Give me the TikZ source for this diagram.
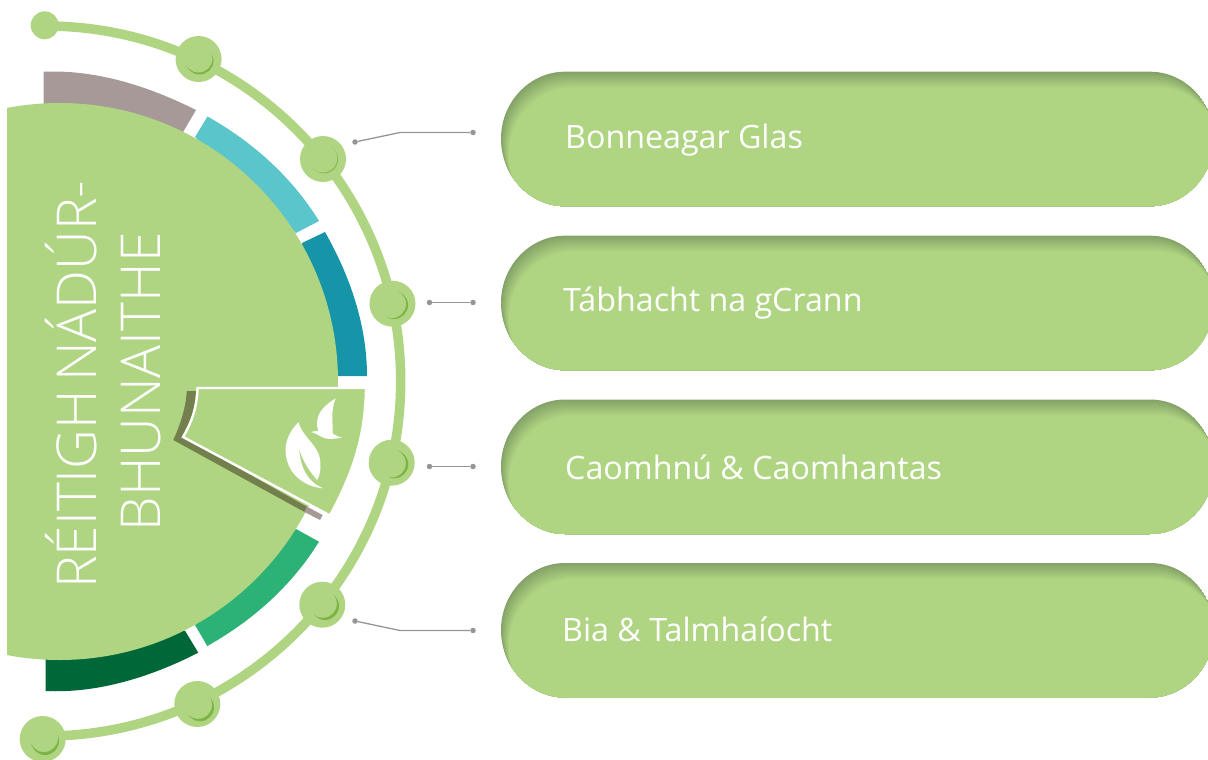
\documentclass[tikz,border=0pt]{standalone}
\usepackage{fontspec}
\setmainfont{Open Sans Light}
\newfontfamily\pillfont{Open Sans}
\definecolor{pillc}{HTML}{AFD582}
\definecolor{shadc}{HTML}{84A267}
\definecolor{crescc}{HTML}{7CB544}
\definecolor{olivec}{HTML}{747F4E}
\definecolor{grayc}{HTML}{A69997}
\definecolor{tealc}{HTML}{5AC5CA}
\definecolor{bluec}{HTML}{1795A8}
\definecolor{greenc}{HTML}{2CB277}
\definecolor{darkc}{HTML}{006838}
\definecolor{leadc}{HTML}{939598}
\tikzset{
  pilltext/.style={anchor=base west,text=white,font=\pillfont\fontsize{32.2}{32.2}\selectfont,inner sep=0pt},
  titletext/.style={anchor=base west,rotate=90,text=white,font=\fontsize{55}{55}\selectfont,inner sep=0pt},
  leaddot/.style={circle,fill=leadc,inner sep=0pt,minimum size=5.5pt},
  leadline/.style={draw=leadc,line width=1.3pt},
  bead/.style={circle,fill=pillc,inner sep=0pt,minimum size=46pt},
}
\newcommand\pillpath{(565,0) -- (1150,0) .. controls (1185,0) and (1214,30) .. (1214,67) .. controls (1214,104) and (1185,134.5) .. (1150,134.5) -- (565,134.5) .. controls (530,134.5) and (501,104) .. (501,67) .. controls (501,30) and (530,0) .. (565,0) -- cycle}
\newcommand\pillshape[1]{%
  \begin{scope}[shift={(0,#1)}]
    \begin{scope}
      \clip \pillpath;
      \fill[shadc] \pillpath;
      \foreach \i in {1,...,16}{
        \pgfmathsetmacro\p{\i*100/16}
        \pgfmathsetmacro\dx{\i*0.5}
        \pgfmathsetmacro\dy{\i*1.0}
        \fill[pillc!\p!shadc,shift={(\dx,\dy)}] \pillpath;
      }
    \end{scope}
  \end{scope}}
\newcommand\crescent[4]{%
  \fill[crescc] (#1,#2) circle[radius=14];
  \fill[pillc] (#1+#3,#2+#4) circle[radius=14];}
\begin{document}
\begin{tikzpicture}[x=1pt,y=-1pt]
\useasboundingbox (0,0) rectangle (1208,760);
\clip (0,0) rectangle (1208,760);
% ring segments
\fill[grayc] (43.7,71.7) .. controls (96.5,69.5) and (148.8,86.3) .. (196,110) -- (183.3,131.7) -- (43.7,160) -- cycle;
\fill[tealc] (207.5,116.5) .. controls (252.6,141.8) and (291.9,177) .. (319,221) -- (296,233) -- (195,137) -- cycle;
\fill[bluec] (325,232) .. controls (350,276) and (367,325) .. (367,376) -- (320,376) -- (302,243) -- cycle;
\fill[greenc] (319,541.7) .. controls (291.9,585.7) and (252.4,620.8) .. (207.3,646) -- (195,625) -- (296,529) -- cycle;
\fill[darkc] (198.3,652.7) .. controls (151.3,676.7) and (98.4,693.5) .. (45.7,691) -- (45.7,620) -- (185,630.7) -- cycle;
% big disc
\begin{scope}
  \clip (7,0) rectangle (400,760);
  \fill[pillc] (59.5,381.5) circle[radius=278.5];
\end{scope}
% selected wedge shadow
\fill[olivec] (186.7,391) -- (196,391) .. controls (195,410) and (190,425) .. (183,437) -- (307,506.7) -- (304.5,512) -- (173.3,440) .. controls (180,425) and (186,408) .. (186.7,391) -- cycle;
\fill[grayc] (307,506.7) -- (322.7,515) -- (320,520) -- (304.5,512) -- cycle;
% selected wedge
\filldraw[fill=pillc,draw=white,line width=2.4pt] (197.5,388) -- (366,388) -- (366,390) .. controls (365,438) and (352.5,473.5) .. (330,515.5) -- (183,437) .. controls (190,425) and (197,410) .. (197.5,388) -- cycle;
% icons
\begin{scope}[shift={(170,380)},x=0.3333pt,y=-0.3333pt]
  \fill[white] (386,127) .. controls (360,150) and (345,185) .. (347,215) .. controls (350,280) and (400,320) .. (460,325) .. controls (420,310) and (390,270) .. (388,205) .. controls (395,240) and (420,275) .. (441,300) .. controls (452,285) and (455,250) .. (447,225) .. controls (435,190) and (395,165) .. (386,127) -- cycle;
  \fill[white] (497,55) .. controls (465,75) and (445,95) .. (442,122) .. controls (440,135) and (442,145) .. (445,152) .. controls (438,153) and (430,154) .. (423,156) .. controls (440,160) and (450,170) .. (465,175) .. controls (480,178) and (500,176) .. (517,173) .. controls (505,170) and (495,167) .. (488,160) .. controls (490,135) and (480,95) .. (497,55) -- cycle;
\end{scope}
% main arc
\draw[pillc,line width=9.5pt] (45.7,26) .. controls (241.8,26) and (400.7,185) .. (400.7,381) .. controls (400.7,577) and (241.8,736) .. (45.7,736);
% beads
\node[circle,fill=pillc,inner sep=0pt,minimum size=28pt] (b0) at (44.7,25.3) {};
\node[bead] (b1) at (198.6,59) {};
\node[bead] (b2) at (323,159) {};
\node[bead] (b3) at (392.5,303.7) {};
\node[bead] (b4) at (391.7,462.7) {};
\node[bead] (b5) at (322.3,604.7) {};
\node[bead] (b6) at (197.3,704) {};
\node[bead] (b7) at (42.7,739) {};
\crescent{199.5}{60.5}{-1}{-2}
\crescent{324}{159.3}{-0.7}{-0.7}
\crescent{394}{305}{-2}{-1}
\crescent{394.3}{464.3}{-2.5}{-1}
\crescent{325}{606}{-2.2}{-2.2}
\crescent{200}{707.3}{-2}{-2.5}
\crescent{45}{741}{-1}{-3}
% leaders
\node[leaddot] (l1a) at (355,142) {};
\node[leaddot] (l1b) at (473,132.5) {};
\coordinate (l1c) at (400,132.5);
\draw[leadline] (l1a) -- (l1c) -- (l1b);
\node[leaddot] (l2a) at (429.5,302.5) {};
\node[leaddot] (l2b) at (473,302.5) {};
\draw[leadline] (l2a) -- (l2b);
\node[leaddot] (l3a) at (429.5,466.5) {};
\node[leaddot] (l3b) at (473,466.5) {};
\draw[leadline] (l3a) -- (l3b);
\node[leaddot] (l4a) at (355,621) {};
\node[leaddot] (l4b) at (473,630.5) {};
\coordinate (l4c) at (400,630.5);
\draw[leadline] (l4a) -- (l4c) -- (l4b);
% pills
\pillshape{71.7}
\pillshape{235.7}
\pillshape{399.5}
\pillshape{563}
\node[pilltext] (t1) at (565,148.5) {Bonneagar Glas};
\node[pilltext] (t2) at (563,311) {Tábhacht na gCrann};
\node[pilltext] (t3) at (565,479) {Caomhnú \& Caomhantas};
\node[pilltext] (t4) at (562,641) {Bia \& Talmhaíocht};
% title
\node[titletext] (h1) at (96,589) {RÉITIGH\hspace{0.15em}NÁDÚR-};
\node[titletext] (h2) at (160,531.5) {BHUNAITHE};
\end{tikzpicture}
\end{document}
